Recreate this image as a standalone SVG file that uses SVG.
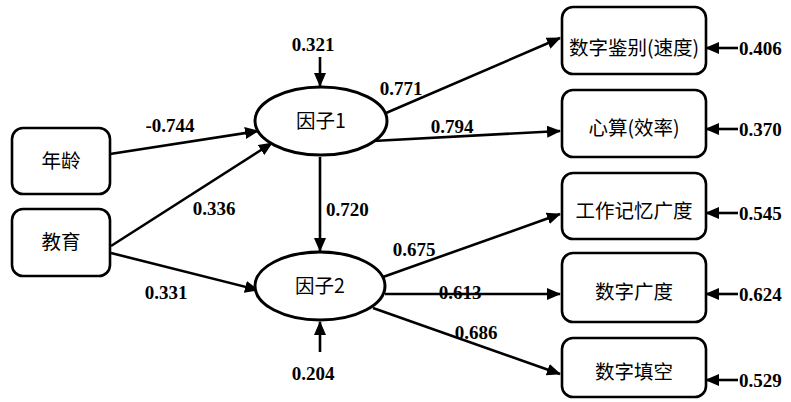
<svg xmlns="http://www.w3.org/2000/svg" width="791" height="402" viewBox="0 0 791 402">
  <defs>
    <marker id="arrow" markerWidth="14" markerHeight="12" refX="13" refY="6" orient="auto" markerUnits="userSpaceOnUse">
      <path d="M0,0 L14,6 L0,12 Z" fill="#000"/>
    </marker>
    <style>
      .box { fill: #fff; stroke: #000; stroke-width: 2.6; }
      .latent { fill: #fff; stroke: #000; stroke-width: 3; }
      .edge { stroke: #000; stroke-width: 2.6; fill: none; marker-end: url(#arrow); }
      .lbl { font-family: "Noto Sans CJK SC", "Noto Sans", sans-serif; font-size: 19.5px; text-anchor: middle; fill: #000; }
      .num { font-family: "Liberation Serif", serif; font-weight: bold; font-size: 19px; fill: #000; }
      .mid { text-anchor: middle; }
    </style>
  </defs>
  <rect width="791" height="402" fill="#fff"/>

  <!-- connectors -->
  <g id="connectors">
    <line class="edge" x1="110" y1="154" x2="258" y2="131"/>
    <line class="edge" x1="111" y1="246" x2="272" y2="143"/>
    <line class="edge" x1="111" y1="253" x2="258" y2="290"/>
    <line class="edge" x1="320" y1="157" x2="320" y2="251"/>
    <line class="edge" x1="320" y1="57" x2="320" y2="86"/>
    <line class="edge" x1="320" y1="352" x2="320" y2="322"/>
    <line class="edge" x1="386" y1="113" x2="560" y2="38"/>
    <line class="edge" x1="373" y1="141" x2="560" y2="131"/>
    <line class="edge" x1="383" y1="277" x2="560" y2="214"/>
    <line class="edge" x1="385" y1="294" x2="560" y2="294"/>
    <line class="edge" x1="373" y1="308" x2="560" y2="374"/>
    <line class="edge" x1="738" y1="48" x2="706" y2="48"/>
    <line class="edge" x1="738" y1="129" x2="706" y2="129"/>
    <line class="edge" x1="738" y1="213" x2="706" y2="213"/>
    <line class="edge" x1="738" y1="294" x2="706" y2="294"/>
    <line class="edge" x1="738" y1="380" x2="706" y2="380"/>
  </g>

  <!-- path coefficients -->
  <g id="coefficients">
    <text class="num mid" x="170" y="132">-0.744</text>
    <text class="num mid" x="214" y="215">0.336</text>
    <text class="num mid" x="166" y="299">0.331</text>
    <text class="num" x="326" y="216">0.720</text>
    <text class="num mid" x="313" y="51">0.321</text>
    <text class="num mid" x="313" y="380">0.204</text>
    <text class="num mid" x="401" y="95">0.771</text>
    <text class="num mid" x="452" y="133">0.794</text>
    <text class="num mid" x="414" y="256">0.675</text>
    <text class="num mid" x="460" y="299">0.613</text>
    <text class="num mid" x="476" y="339">0.686</text>
    <text class="num" x="739" y="55">0.406</text>
    <text class="num" x="739" y="136">0.370</text>
    <text class="num" x="739" y="220">0.545</text>
    <text class="num" x="739" y="301">0.624</text>
    <text class="num" x="739" y="387">0.529</text>
  </g>

  <!-- observed variables -->
  <g id="node-age">
    <rect class="box" x="12" y="128" width="98" height="66" rx="11"/>
    <text class="lbl" x="61" y="168">年龄</text>
  </g>
  <g id="node-education">
    <rect class="box" x="12" y="209" width="98" height="67" rx="11"/>
    <text class="lbl" x="61" y="249">教育</text>
  </g>

  <!-- latent factors -->
  <g id="node-factor1">
    <ellipse class="latent" cx="321" cy="121" rx="66" ry="34"/>
    <text class="lbl" x="321" y="128">因子1</text>
  </g>
  <g id="node-factor2">
    <ellipse class="latent" cx="320" cy="286" rx="65" ry="34"/>
    <text class="lbl" x="320" y="293">因子2</text>
  </g>

  <!-- indicators -->
  <g id="node-perceptual-speed">
    <rect class="box" x="562" y="7" width="144" height="67" rx="11"/>
    <text class="lbl" x="634" y="55">数字鉴别(速度)</text>
  </g>
  <g id="node-mental-arithmetic">
    <rect class="box" x="562" y="90" width="144" height="67" rx="11"/>
    <text class="lbl" x="634" y="135">心算(效率)</text>
  </g>
  <g id="node-working-memory">
    <rect class="box" x="562" y="173" width="144" height="66" rx="11"/>
    <text class="lbl" x="634" y="218">工作记忆广度</text>
  </g>
  <g id="node-digit-span">
    <rect class="box" x="562" y="253" width="144" height="69" rx="11"/>
    <text class="lbl" x="634" y="299">数字广度</text>
  </g>
  <g id="node-digit-fill">
    <rect class="box" x="562" y="338" width="144" height="59" rx="11"/>
    <text class="lbl" x="634" y="379">数字填空</text>
  </g>
</svg>
